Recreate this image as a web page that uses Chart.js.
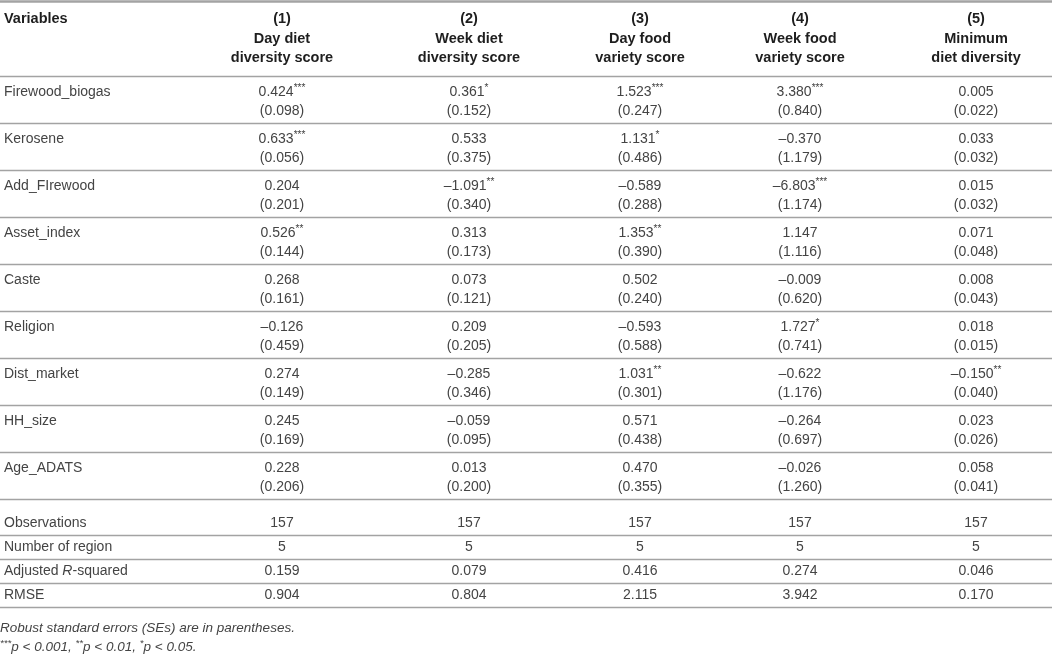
<!DOCTYPE html>
<html>
<head>
<meta charset="utf-8">
<script src="https://cdn.jsdelivr.net/npm/chart.js@4.4.1/dist/chart.umd.min.js"></script>
<style>
  html, body { margin: 0; background: #fff; }
  #wrap { width: 1052px; height: 665px; }
</style>
</head>
<body>
<div id="wrap"><canvas id="c"></canvas></div>
<script>
// Regression table: five models, coefficient + (SE) per variable, fit stats below.
const VARIABLES = ["Firewood_biogas", "Kerosene", "Add_FIrewood", "Asset_index", "Caste",
  "Religion", "Dist_market", "HH_size", "Age_ADATS"];
const MODEL_NUM = ["(1)", "(2)", "(3)", "(4)", "(5)"];
const MODEL_TITLE = [
  ["Day diet", "diversity score"],
  ["Week diet", "diversity score"],
  ["Day food", "variety score"],
  ["Week food", "variety score"],
  ["Minimum", "diet diversity"],
];

const COEF_1 = ["0.424***", "0.633***", "0.204", "0.526**", "0.268", "–0.126", "0.274", "0.245", "0.228"];
const SE_1   = ["0.098", "0.056", "0.201", "0.144", "0.161", "0.459", "0.149", "0.169", "0.206"];
const COEF_2 = ["0.361*", "0.533", "–1.091**", "0.313", "0.073", "0.209", "–0.285", "–0.059", "0.013"];
const SE_2   = ["0.152", "0.375", "0.340", "0.173", "0.121", "0.205", "0.346", "0.095", "0.200"];
const COEF_3 = ["1.523***", "1.131*", "–0.589", "1.353**", "0.502", "–0.593", "1.031**", "0.571", "0.470"];
const SE_3   = ["0.247", "0.486", "0.288", "0.390", "0.240", "0.588", "0.301", "0.438", "0.355"];
const COEF_4 = ["3.380***", "–0.370", "–6.803***", "1.147", "–0.009", "1.727*", "–0.622", "–0.264", "–0.026"];
const SE_4   = ["0.840", "1.179", "1.174", "1.116", "0.620", "0.741", "1.176", "0.697", "1.260"];
const COEF_5 = ["0.005", "0.033", "0.015", "0.071", "0.008", "0.018", "–0.150**", "0.023", "0.058"];
const SE_5   = ["0.022", "0.032", "0.032", "0.048", "0.043", "0.015", "0.040", "0.026", "0.041"];

const STAT_LABELS = ["Observations", "Number of region", "Adjusted {R}-squared", "RMSE"];
const OBSERVATIONS = ["157", "157", "157", "157", "157"];
const REGIONS      = ["5", "5", "5", "5", "5"];
const ADJ_R2       = ["0.159", "0.079", "0.416", "0.274", "0.046"];
const RMSE         = ["0.904", "0.804", "2.115", "3.942", "0.170"];

const NOTES = [
  "Robust standard errors (SEs) are in parentheses.",
  "***p < 0.001, **p < 0.01, *p < 0.05.",
];

// ---- layout (table units == css px) ----
const W = 1052, H = 665;
const LABEL_X = 4;
const COL_X = [282, 469, 640, 800, 976];
const HEAD_Y = [19, 39, 58];
const BODY_TOP = 76;
const ROW_H = 47;
const VAL_DY = 16, SE_DY = 35;
const STAT_H = 24;
const STAT_TOP = BODY_TOP + VARIABLES.length * ROW_H;
const NOTE_Y = [628, 647];

const FAMILY = '"Liberation Sans", Arial, sans-serif';
const TEXT = "#444";
const HEAD_TEXT = "#1e1e1e";
const RULE = "#a3a3a3";

const COEFS = [COEF_1, COEF_2, COEF_3, COEF_4, COEF_5];
const SES = [SE_1, SE_2, SE_3, SE_4, SE_5];
const STATS = [OBSERVATIONS, REGIONS, ADJ_R2, RMSE];

const statY = (k) => STAT_TOP + STAT_H * (k + 1);

function cellSet(label, pts, cells, style) {
  return { label, data: pts, cells, style, pointRadius: 0, showLine: false };
}

const datasets = [];
// header
datasets.push(cellSet("head-label", [{ x: LABEL_X, y: HEAD_Y[0] }], ["Variables"],
  { align: "left", bold: true, size: 14.5 }));
MODEL_NUM.forEach((n, m) => {
  datasets.push(cellSet("head-" + m,
    HEAD_Y.map((y) => ({ x: COL_X[m], y })),
    [n, MODEL_TITLE[m][0], MODEL_TITLE[m][1]],
    { align: "center", bold: true, size: 14.5 }));
});
// row labels
datasets.push(cellSet("labels",
  VARIABLES.map((_, i) => ({ x: LABEL_X, y: BODY_TOP + i * ROW_H + VAL_DY })),
  VARIABLES, { align: "left" }));
datasets.push(cellSet("stat-labels",
  STAT_LABELS.map((_, k) => ({ x: LABEL_X, y: statY(k) })),
  STAT_LABELS, { align: "left" }));
// coefficients, standard errors, stats
COEFS.forEach((col, m) => {
  datasets.push(cellSet("coef-" + m,
    col.map((_, i) => ({ x: COL_X[m], y: BODY_TOP + i * ROW_H + VAL_DY })),
    col, { align: "center" }));
  datasets.push(cellSet("se-" + m,
    SES[m].map((_, i) => ({ x: COL_X[m], y: BODY_TOP + i * ROW_H + SE_DY })),
    SES[m].map((s) => "(" + s + ")"), { align: "center" }));
  datasets.push(cellSet("stat-" + m,
    STATS.map((_, k) => ({ x: COL_X[m], y: statY(k) })),
    STATS.map((s) => s[m]), { align: "center" }));
});
datasets.push(cellSet("notes",
  NOTES.map((_, i) => ({ x: 0, y: NOTE_Y[i] })),
  NOTES, { align: "left", italic: true, size: 13.5 }));

// split "0.424***" / "Adjusted {R}-squared" into styled runs
function runs(text) {
  const out = [];
  const re = /(\*+)|\{([^}]*)\}|([^*{]+)/g;
  let m;
  while ((m = re.exec(text))) {
    if (m[1]) out.push({ t: m[1], sup: true });
    else if (m[2]) out.push({ t: m[2], it: true });
    else out.push({ t: m[3] });
  }
  return out;
}

function fontFor(style, run) {
  const size = (style.size || 14) * (run.sup ? 0.72 : 1);
  const it = style.italic || run.it ? "italic " : "";
  const wt = style.bold ? "bold " : "";
  return `${it}${wt}${size}px ${FAMILY}`;
}

function drawCell(ctx, text, x, y, style) {
  const parts = runs(text);
  let total = 0;
  parts.forEach((p) => { ctx.font = fontFor(style, p); p.w = ctx.measureText(p.t).width; total += p.w; });
  let cx = style.align === "center" ? x - total / 2 : x;
  parts.forEach((p) => {
    ctx.font = fontFor(style, p);
    ctx.fillText(p.t, cx, p.sup ? y - 4 : y);
    cx += p.w;
  });
}

const tablePlugin = {
  id: "table",
  beforeDatasetsDraw(chart) {
    const { ctx, scales: { x, y } } = chart;
    const x0 = x.getPixelForValue(0), x1 = x.getPixelForValue(W);
    const rule = (v, lw) => {
      const py = Math.round(y.getPixelForValue(v)) + 0.5;
      ctx.lineWidth = lw;
      ctx.beginPath(); ctx.moveTo(x0, py); ctx.lineTo(x1, py); ctx.stroke();
    };
    ctx.save();
    ctx.strokeStyle = RULE;
    rule(1, 2.5);
    rule(BODY_TOP, 1.6);
    for (let i = 1; i <= VARIABLES.length; i++) rule(BODY_TOP + i * ROW_H, 1.3);
    for (let k = 0; k < STAT_LABELS.length; k++) rule(statY(k) + 12, 1.3);
    ctx.restore();
  },
  afterDatasetsDraw(chart) {
    const { ctx } = chart;
    ctx.save();
    ctx.textBaseline = "middle";
    ctx.textAlign = "left";
    chart.data.datasets.forEach((ds, di) => {
      const meta = chart.getDatasetMeta(di);
      ctx.fillStyle = ds.style.bold ? HEAD_TEXT : TEXT;
      meta.data.forEach((pt, i) => drawCell(ctx, ds.cells[i], pt.x, pt.y, ds.style));
    });
    ctx.restore();
  },
};

new Chart(document.getElementById("c"), {
  type: "scatter",
  data: { datasets },
  options: {
    responsive: true,
    maintainAspectRatio: false,
    animation: false,
    layout: { padding: 0 },
    plugins: { legend: { display: false }, tooltip: { enabled: false } },
    scales: {
      x: { type: "linear", min: 0, max: W, display: false },
      y: { type: "linear", min: 0, max: H, reverse: true, display: false },
    },
  },
  plugins: [tablePlugin],
});
</script>
</body>
</html>
